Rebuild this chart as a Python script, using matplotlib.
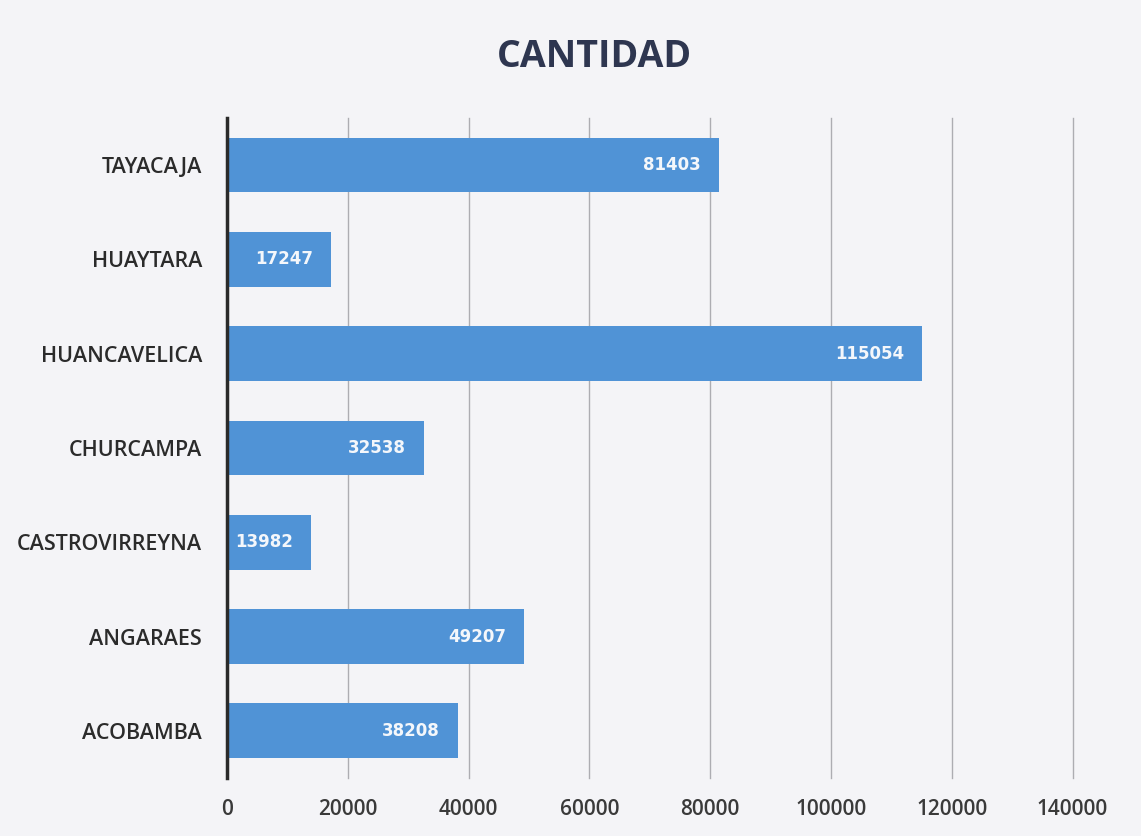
import matplotlib.pyplot as plt
import numpy as np

provincias = ["ACOBAMBA", "ANGARAES", "CASTROVIRREYNA", "CHURCAMPA",
              "HUANCAVELICA", "HUAYTARA", "TAYACAJA"]
cantidad = [38208, 49207, 13982, 32538, 115054, 17247, 81403]
ticks_x = [0, 20000, 40000, 60000, 80000, 100000, 120000, 140000]

plt.rcParams['font.family'] = ['Open Sans', 'DejaVu Sans']

fondo = "#f4f4f7"
azul = "#5093d6"

fig = plt.figure(figsize=(11.41, 8.36), dpi=100, facecolor=fondo)
ax = fig.add_axes([0.199, 0.0694, 0.741, 0.7895], facecolor=fondo)

y = np.arange(len(provincias))
barras = ax.barh(y, cantidad, height=0.58, color=azul, zorder=3)

# etiquetas de valor dentro de cada barra
for b, v in zip(barras, cantidad):
    ax.annotate(str(v), xy=(b.get_width(), b.get_y() + b.get_height() / 2),
                xytext=(-13, 0), textcoords="offset points",
                ha="right", va="center", color="#f4f7fb",
                fontsize=12, fontweight="bold", family="DejaVu Sans", zorder=4)

ax.set_xlim(0, 140000)
ax.set_ylim(-0.5, 6.5)
ax.set_xticks(ticks_x)
ax.set_xticklabels([str(t) for t in ticks_x], fontsize=15, fontweight="semibold",
                   color="#3a3a3a")
ax.set_yticks(y)
ax.set_yticklabels(provincias, fontsize=15.5, fontweight="semibold", color="#2b2b2b")
ax.tick_params(length=0, pad=18)
ax.tick_params(axis="x", pad=15)

ax.grid(axis="x", color="#adadb2", linewidth=1.0, zorder=0)
for linea in ax.get_xgridlines():
    linea.set_clip_on(False)
for s in ["top", "right", "bottom"]:
    ax.spines[s].set_visible(False)
ax.spines["left"].set_color("#2a2a2a")
ax.spines["left"].set_linewidth(2.5)
ax.spines["left"].set_zorder(5)

fig.text(0.521, 0.932, "CANTIDAD", ha="center", va="center",
         fontsize=27, fontweight="bold", color="#2e3650")

fig.savefig("out.png", dpi=100, facecolor=fondo)
